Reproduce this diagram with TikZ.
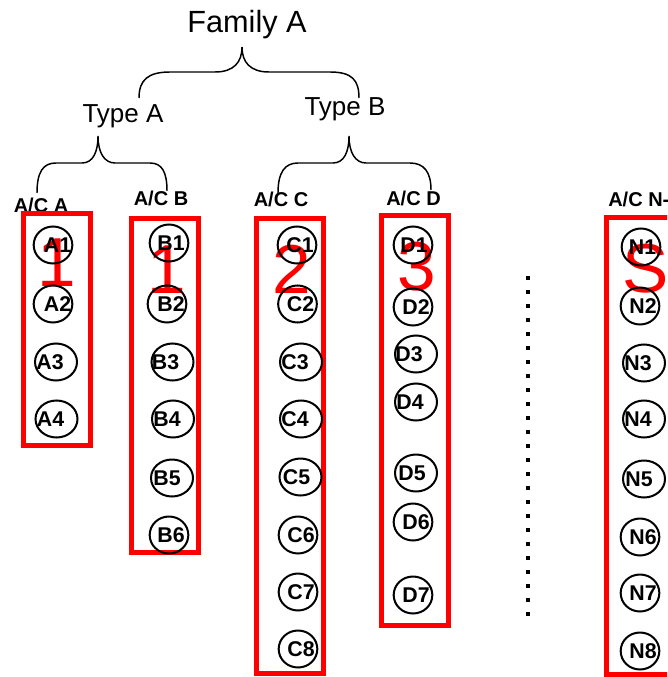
\documentclass[tikz,border=0pt]{standalone}
\usepackage{fontspec}
\setmainfont{Liberation Sans}
\usetikzlibrary{shapes.geometric}
\tikzset{
  ring/.style={draw, line width=1.5pt, ellipse, minimum width=29pt, minimum height=27.75pt, inner sep=0pt},
  widering/.style={ring, minimum width=31.5pt},
  ringtext/.style={font=\bfseries\fontsize{16}{16}\selectfont, inner sep=0pt},
  grp/.style={draw=red, line width=3.75pt},
  bignum/.style={text=red, font=\fontsize{52}{52}\selectfont, inner sep=0pt},
  aclabel/.style={font=\bfseries\fontsize{15}{15}\selectfont, inner sep=0pt, anchor=base},
  typelabel/.style={font=\fontsize{19.5}{20}\selectfont, inner sep=0pt, anchor=base},
  brace/.style={line width=1.1pt},
}
% style, name, x, y, text offset, text
\newcommand\ringnode[6]{%
  \node[#1] (#2) at (#3,#4) {};
  \node[ringtext] (#2t) at (#3+#5,#4) {#6};}
\begin{document}
\begin{tikzpicture}[x=0.75pt, y=-0.75pt]
\useasboundingbox (0,0) rectangle (667,677);
\clip (0,0) rectangle (667,677);

% titles
\node[font=\fontsize{23}{24}\selectfont, inner sep=0pt, anchor=base] (fam) at (247,33) {Family A};
\node[typelabel] (ta) at (123,123) {Type A};
\node[typelabel] (tb) at (345,115.5) {Type B};

% braces
\draw[brace] (139,98) .. controls (139,80) and (148,72) .. (170,72) -- (215,72)
  .. controls (234,72) and (242,62) .. (242,47)
  .. controls (242,62) and (250,72) .. (269,72) -- (330,72)
  .. controls (352,72) and (359,80) .. (359,98);
\draw[brace] (37,193) .. controls (37,172) and (43,163) .. (56,163) -- (82,163)
  .. controls (93,163) and (98,152) .. (98,136)
  .. controls (98,152) and (104,163) .. (115,163) -- (150,163)
  .. controls (162,163) and (167,172) .. (167,191);
\draw[brace] (278,193) .. controls (278,172) and (285,163) .. (298,163) -- (333,163)
  .. controls (344,163) and (349,152) .. (349,136)
  .. controls (349,152) and (355,163) .. (366,163) -- (410,163)
  .. controls (424,163) and (431,172) .. (431,190);

% group labels
\node[aclabel] (lA) at (41,213) {A/C A};
\node[aclabel] (lB) at (161,205) {A/C B};
\node[aclabel] (lC) at (281,207) {A/C C};
\node[aclabel] (lD) at (413.5,205) {A/C D};
\node[aclabel, anchor=base west] (lN) at (608,207) {A/C N-};

% group numbers
\node[bignum] (nA) at (57,263) {1};
\node[bignum] (nB) at (166.5,270) {1};
\node[bignum] (nC) at (292,269) {2};
\node[bignum] (nD) at (417,267) {3};
\node[bignum] (nN) at (646,269) {S};

% group frames
\draw[grp] (23.5,213.5) rectangle (90.5,445.5);
\draw[grp] (131.5,218.5) rectangle (198.5,552);
\draw[grp] (256.5,218.5) rectangle (323.5,673.5);
\draw[grp] (381.5,215.5) rectangle (448.5,625.5);
\draw[grp] (606.5,217.5) rectangle (690,674.5);

% column A
\ringnode{ring}{a1}{53}{245}{4.5}{A1}
\ringnode{ring}{a2}{53}{304}{4.5}{A2}
\ringnode{widering}{a3}{56}{362}{-6}{A3}
\ringnode{widering}{a4}{56.5}{419}{-6}{A4}
% column B
\ringnode{ring}{b1}{169}{243}{2}{B1}
\ringnode{ring}{b2}{167}{304}{4}{B2}
\ringnode{widering}{b3}{172.5}{362}{-7}{B3}
\ringnode{widering}{b4}{173}{419}{-6}{B4}
\ringnode{widering}{b5}{172}{478}{-5}{B5}
\ringnode{ring}{b6}{169}{535}{2}{B6}
% column C
\ringnode{ring}{c1}{297}{245}{3}{C1}
\ringnode{ring}{c2}{297.5}{304}{3}{C2}
\ringnode{widering}{c3}{301}{362}{-6}{C3}
\ringnode{widering}{c4}{301}{419}{-6}{C4}
\ringnode{widering}{c5}{300.5}{477}{-4}{C5}
\ringnode{ring}{c6}{298}{535}{3}{C6}
\ringnode{ring}{c7}{298}{592}{3}{C7}
\ringnode{ring}{c8}{298}{649}{3}{C8}
% column D
\ringnode{ring}{d1}{413}{245}{1}{D1}
\ringnode{ring}{d2}{413}{307}{3}{D2}
\ringnode{widering}{d3}{416}{354}{-7}{D3}
\ringnode{widering}{d4}{416}{402}{-6}{D4}
\ringnode{widering}{d5}{416}{473}{-4}{D5}
\ringnode{ring}{d6}{413}{522}{3}{D6}
\ringnode{ring}{d7}{413}{595}{3}{D7}
% column N
\ringnode{ring}{n1}{641}{247}{1.5}{N1}
\ringnode{ring}{n2}{640}{306}{3}{N2}
\ringnode{widering}{n3}{644}{363}{-6}{N3}
\ringnode{widering}{n4}{644}{419}{-6}{N4}
\ringnode{widering}{n5}{644}{479}{-5}{N5}
\ringnode{ring}{n6}{640}{537}{3}{N6}
\ringnode{ring}{n7}{640}{593}{3}{N7}
\ringnode{ring}{n8}{640}{651}{3}{N8}

% ellipsis between columns
\coordinate (dtop) at (528,276);
\coordinate (dbot) at (528,622);
\draw[line width=3pt, dash pattern=on 3pt off 7.5pt] (dtop) -- (dbot);
\end{tikzpicture}
\end{document}
